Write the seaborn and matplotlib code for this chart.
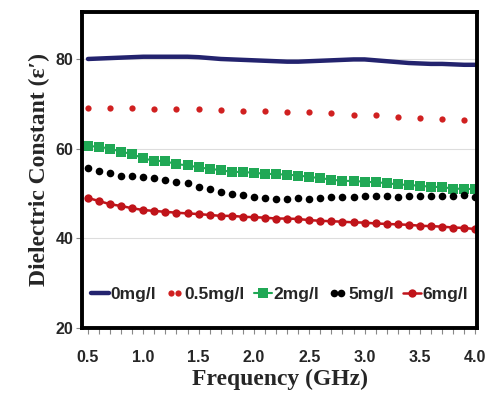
import numpy as np
import pandas as pd
import matplotlib
matplotlib.use("Agg")
import matplotlib.pyplot as plt
from matplotlib.ticker import MultipleLocator
from matplotlib.legend_handler import HandlerLine2D
import seaborn as sns

sns.set_style("white")
plt.rcParams['font.family'] = ['Liberation Sans', 'DejaVu Sans']

# Frequência (GHz) - passo de 0.1
freq = [round(0.5 + 0.1 * i, 1) for i in range(36)]
# série 0.5mg/l medida a cada 0.2 GHz
freq_05 = [round(0.5 + 0.2 * i, 1) for i in range(18)]

eps_0 = [80.0, 80.1, 80.2, 80.3, 80.4, 80.5, 80.5, 80.5, 80.5, 80.5, 80.4, 80.2,
         80.0, 79.9, 79.8, 79.7, 79.6, 79.5, 79.4, 79.4, 79.5, 79.6, 79.7, 79.8,
         79.9, 79.9, 79.7, 79.5, 79.3, 79.1, 79.0, 78.9, 78.9, 78.8, 78.7, 78.7]
eps_05 = [69.0, 69.0, 69.0, 68.9, 68.9, 68.8, 68.7, 68.5, 68.4, 68.2, 68.1, 67.9,
          67.6, 67.4, 67.1, 66.9, 66.6, 66.4]
eps_2 = [60.6, 60.4, 60.0, 59.3, 58.8, 57.8, 57.3, 57.2, 56.5, 56.3, 55.8, 55.5,
         55.2, 54.8, 54.8, 54.6, 54.4, 54.3, 54.2, 54.0, 53.7, 53.4, 53.1, 52.8,
         52.8, 52.6, 52.5, 52.3, 52.0, 51.9, 51.7, 51.5, 51.4, 51.1, 51.0, 51.0]
eps_5 = [55.6, 55.0, 54.5, 54.0, 54.0, 53.6, 53.4, 53.0, 52.5, 52.3, 51.4, 50.9,
         50.4, 49.9, 49.6, 49.3, 48.9, 48.75, 48.75, 48.9, 48.7, 48.9, 49.1, 49.3,
         49.3, 49.4, 49.4, 49.5, 49.3, 49.4, 49.5, 49.4, 49.5, 49.4, 49.6, 49.2]
eps_6 = [49.0, 48.3, 47.6, 47.2, 46.7, 46.3, 46.1, 45.9, 45.7, 45.55, 45.4, 45.2,
         45.0, 45.0, 44.8, 44.7, 44.6, 44.4, 44.4, 44.3, 44.05, 43.9, 43.8, 43.7,
         43.55, 43.5, 43.3, 43.2, 43.1, 43.0, 42.8, 42.7, 42.6, 42.4, 42.3, 42.05]

fig = plt.figure(figsize=(4.88, 3.97), dpi=100)
ax = fig.add_axes([0.168, 0.174, 0.810, 0.796])

# grade horizontal clara
for yv in [40, 60, 80]:
    ax.axhline(yv, color='#dddddd', lw=0.8, zorder=0)

sns.lineplot(x=freq, y=eps_0, ax=ax, color='#23236e', lw=3.2, label='0mg/l')
sns.lineplot(x=freq_05, y=eps_05, ax=ax, color='#d02020', linestyle='none',
             marker='o', markersize=4.5, markeredgewidth=0, label='0.5mg/l')
sns.lineplot(x=freq, y=eps_2, ax=ax, color='#20a855', lw=1.5, marker='s',
             markersize=6.5, markeredgewidth=0, label='2mg/l')
sns.lineplot(x=freq, y=eps_5, ax=ax, color='black', linestyle='none',
             marker='o', markersize=5.5, markeredgewidth=0, label='5mg/l')
sns.lineplot(x=freq, y=eps_6, ax=ax, color='#c0141a', lw=1.8, marker='o',
             markersize=6, markeredgewidth=0, label='6mg/l')

ax.set_xlim(0.446, 4.018)
ax.set_ylim(20, 90.5)
ax.set_xticks([0.5, 1.0, 1.5, 2.0, 2.5, 3.0, 3.5, 4.0])
ax.xaxis.set_minor_locator(MultipleLocator(0.1))
ax.set_yticks([20, 40, 60, 80])
ax.tick_params(axis='both', which='major', labelsize=11.5, length=4, width=0.8,
               color='#888888', direction='out', pad=6)
ax.tick_params(axis='x', which='minor', length=4, width=0.8, color='#888888',
               direction='out', bottom=True)
ax.tick_params(axis='x', which='major', bottom=True, pad=12)
ax.tick_params(axis='y', which='major', left=True, pad=2)
for lab in ax.get_xticklabels() + ax.get_yticklabels():
    lab.set_fontweight('bold')

for sp in ax.spines.values():
    sp.set_visible(True)
    sp.set_color('black')
    sp.set_linewidth(2.8)

ax.set_xlabel('Frequency (GHz)', family=['Liberation Serif', 'DejaVu Serif'],
              fontsize=17, fontweight='bold', labelpad=3)
ax.set_ylabel("Dielectric Constant (\u03b5\u2032)", family=['Liberation Serif', 'DejaVu Serif'],
              fontsize=17, fontweight='bold', labelpad=4)

handles, labels = ax.get_legend_handles_labels()
hmap = {handles[1]: HandlerLine2D(numpoints=2), handles[3]: HandlerLine2D(numpoints=2)}
leg = ax.legend(handles, labels, loc='lower center', bbox_to_anchor=(0.5, 0.06),
                ncol=5, frameon=False, handlelength=1.0, handletextpad=0.1,
                columnspacing=0.55, handler_map=hmap,
                prop={'weight': 'bold', 'size': 12.5}, borderaxespad=0)

fig.savefig('out.png', dpi=100)
